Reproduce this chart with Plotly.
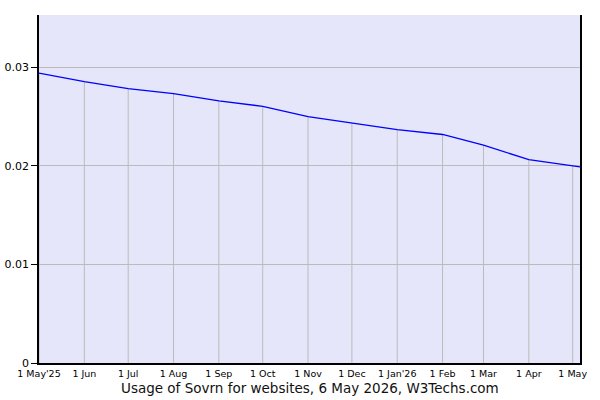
import plotly.graph_objects as go

# ==============================================================================
# DATA
# ==============================================================================
dates = ["2025-05-01", "2025-06-01", "2025-07-01", "2025-08-01", "2025-09-01",
         "2025-10-01", "2025-11-01", "2025-12-01", "2026-01-01", "2026-02-01",
         "2026-03-01", "2026-04-01", "2026-05-01", "2026-05-06"]
usage = [0.0294, 0.02855, 0.02784, 0.02733, 0.02658,
         0.02604, 0.02499, 0.02434, 0.02367, 0.02318,
         0.02211, 0.02062, 0.01995, 0.0199]

tick_dates = dates[:13]
tick_labels = ["1 May'25", "1 Jun", "1 Jul", "1 Aug", "1 Sep", "1 Oct", "1 Nov",
               "1 Dec", "1 Jan'26", "1 Feb", "1 Mar", "1 Apr", "1 May"]
y_ticks = [0, 0.01, 0.02, 0.03]
y_labels = ["0", "0.01", "0.02", "0.03"]

FONT = "DejaVu Sans"
GRID = "#bbbbbb"

fig = go.Figure()

# A. vertical grid lines only from the curve down to zero
drop_x, drop_y = [], []
for d, v in zip(tick_dates, usage[:13]):
    drop_x += [d, d, None]
    drop_y += [0, v, None]

fig.add_trace(go.Scatter(
    x=drop_x, y=drop_y, mode='lines',
    line=dict(color=GRID, width=1), hoverinfo='skip', showlegend=False
))

# B. usage line
fig.add_trace(go.Scatter(
    x=dates, y=usage, mode='lines',
    line=dict(color='#0000ff', width=1.3), showlegend=False
))

# C. caption under the axis
fig.add_annotation(
    text="Usage of Sovrn for websites, 6 May 2026, W3Techs.com",
    xref='paper', yref='paper', x=0.5, y=0, yanchor='middle', yshift=-25,
    showarrow=False, font=dict(family=FONT, size=13.5, color='#111111')
)

# D. LAYOUT
fig.update_layout(
    width=600, height=400,
    paper_bgcolor='white', plot_bgcolor='#e6e6fa',
    margin=dict(l=39, r=20, t=15, b=37, autoexpand=False),
    xaxis=dict(
        type='date', range=["2025-05-01", "2026-05-06"],
        tickvals=tick_dates, ticktext=tick_labels,
        ticks='outside', ticklen=1, tickcolor='rgba(0,0,0,0)',
        showgrid=False, zeroline=False, automargin=False,
        showline=True, linecolor='black', linewidth=1.5,
        tickfont=dict(family=FONT, size=9.5, color='black'), tickangle=0
    ),
    yaxis=dict(
        range=[0, 0.0353], tickvals=y_ticks, ticktext=y_labels,
        ticks='outside', ticklen=6, tickcolor='black', tickwidth=1,
        showgrid=True, gridcolor=GRID, gridwidth=1, zeroline=False,
        automargin=False,
        showline=True, linecolor='black', linewidth=1.5, mirror=True,
        tickfont=dict(family=FONT, size=11, color='black')
    ),
)

# drop the default page margin so the chart sits at the window corner
fig.write_html("out.html", config={'displayModeBar': False},
               post_script="document.body.style.margin='0';")
